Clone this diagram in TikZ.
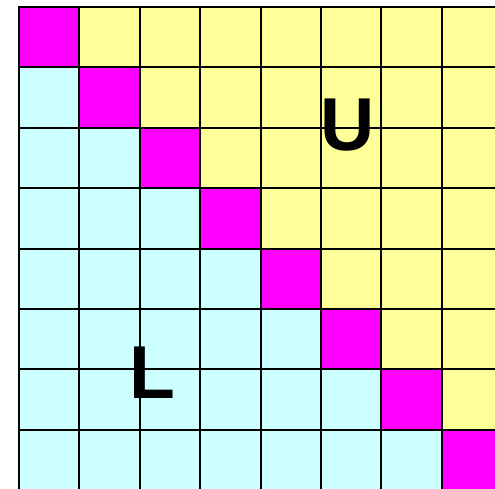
\documentclass[tikz,border=0pt]{standalone}
\usepackage{fontspec}
\setmainfont{Liberation Sans}
\definecolor{lumag}{HTML}{FF00FF}
\definecolor{luyel}{HTML}{FFFF99}
\definecolor{lucya}{HTML}{CCFFFF}
\begin{document}
\begin{tikzpicture}[
  x=1pt, y=-1pt,
  cell/.style={
    minimum width=60.4pt, minimum height=60.4pt,
    inner sep=0pt, draw=black, line width=2pt,
  },
  Dcell/.style={cell, fill=lumag},
  Ucell/.style={cell, fill=luyel},
  Lcell/.style={cell, fill=lucya},
  big/.style={font=\fontsize{75}{75}\selectfont\bfseries, inner sep=0pt},
]

\def\cw{60.4}

% ── page ─────────────────────────────────────────────────
\useasboundingbox (0,0) rectangle (495,488);
\clip (0,0) rectangle (495,488);

% ── cells: diagonal, upper, lower ────────────────────────
\foreach \i in {1,...,8}
  \foreach \j in {1,...,8} {
    \ifnum\j=\i
      \node[Dcell] (c\i\j) at ({19+(\j-0.5)*\cw}, {7+(\i-0.5)*\cw}) {};
    \else\ifnum\j>\i
      \node[Ucell] (c\i\j) at ({19+(\j-0.5)*\cw}, {7+(\i-0.5)*\cw}) {};
    \else
      \node[Lcell] (c\i\j) at ({19+(\j-0.5)*\cw}, {7+(\i-0.5)*\cw}) {};
    \fi\fi
  }

% ── labels ───────────────────────────────────────────────
\node[big] (U) at (348, 125) {U};
\node[big] (L) at (152, 373) {L};

\end{tikzpicture}
\end{document}
